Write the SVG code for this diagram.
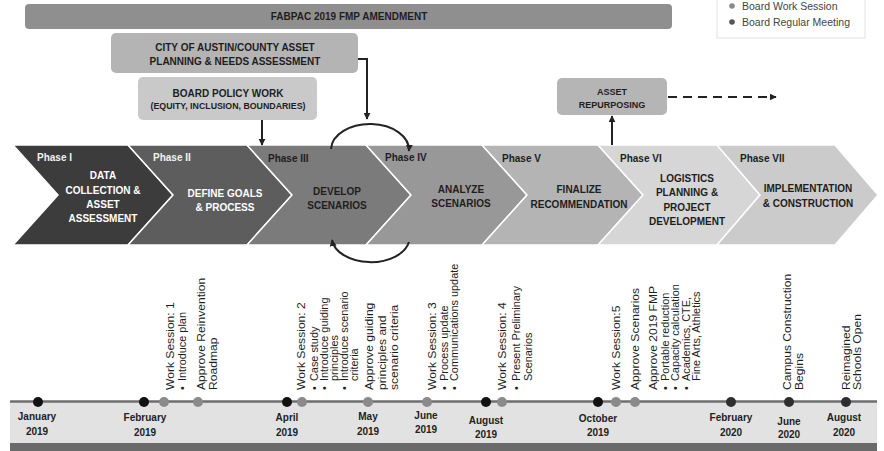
<svg xmlns="http://www.w3.org/2000/svg" width="884" height="451" viewBox="0 0 884 451">
<style>
text{font-family:"Liberation Sans",Arial,sans-serif;}
.b{font-weight:bold;font-size:10px;fill:#1e1e1e;text-anchor:middle;}
.bw{font-weight:bold;font-size:10px;fill:#ffffff;text-anchor:middle;}
.ph{font-weight:bold;font-size:10px;fill:#1e1e1e;}
.phw{font-weight:bold;font-size:10px;fill:#f2f2f2;}
.v{font-size:11px;fill:#1e1e1e;}
.vb{font-size:10px;fill:#1e1e1e;}
.m{font-weight:bold;font-size:10px;fill:#222;text-anchor:middle;}
.lg{font-size:10.5px;fill:#444;}
.chev{stroke:#ffffff;stroke-width:1.5;}
.con{fill:none;stroke:#222;stroke-width:2;}
</style>
<defs>
<marker id="ah" viewBox="0 0 10 10" refX="9" refY="5" markerWidth="7" markerHeight="7" markerUnits="userSpaceOnUse" orient="auto">
<path d="M0,0 L10,5 L0,10 z" fill="#222"/>
</marker>
</defs>
<rect width="884" height="451" fill="#ffffff"/>

<g id="legend">
<rect x="717" y="-5" width="148" height="43" fill="#ffffff" stroke="#e2e2e2" stroke-width="1"/>
<circle cx="732" cy="6" r="2.8" fill="#8a8a8a"/>
<text class="lg" x="742" y="10">Board Work Session</text>
<circle cx="732" cy="22" r="2.8" fill="#555"/>
<text class="lg" x="742" y="26">Board Regular Meeting</text>
</g>

<g id="fabpac">
<rect x="25" y="4" width="647" height="25" rx="4" fill="#8f8f8f"/>
<text class="b" x="349" y="20">FABPAC 2019 FMP AMENDMENT</text>
</g>

<g id="city">
<rect x="111" y="33" width="247" height="40" rx="5" fill="#b4b4b4"/>
<text class="b" x="235" y="51">CITY OF AUSTIN/COUNTY ASSET</text>
<text class="b" x="235" y="65">PLANNING &amp; NEEDS ASSESSMENT</text>
</g>

<g id="board">
<rect x="138" y="77" width="179" height="43" rx="5" fill="#c9c9c9"/>
<text class="b" x="228" y="97">BOARD POLICY WORK</text>
<text class="b" x="228" y="109" style="font-size:8.8px">(EQUITY, INCLUSION, BOUNDARIES)</text>
</g>

<g id="asset">
<rect x="557" y="78" width="110" height="37" rx="5" fill="#b5b5b5"/>
<text class="b" x="612" y="94.5" style="font-size:9px">ASSET</text>
<text class="b" x="612" y="107.5" style="font-size:9px">REPURPOSING</text>
</g>

<g id="phase1">
<polygon class="chev" points="13,145 128,145 173,195 128,245 13,245 58,195" fill="#3c3c3c"/>
<text class="phw" x="37" y="161">Phase I</text>
<text class="bw" x="103" y="179">DATA</text>
<text class="bw" x="103" y="194">COLLECTION &amp;</text>
<text class="bw" x="103" y="208">ASSET</text>
<text class="bw" x="103" y="222">ASSESSMENT</text>
</g>
<g id="phase2">
<polygon class="chev" points="128,145 247,145 292,195 247,245 128,245 173,195" fill="#5d5d5d"/>
<text class="phw" x="153" y="161">Phase II</text>
<text class="bw" x="225" y="197">DEFINE GOALS</text>
<text class="bw" x="225" y="211">&amp; PROCESS</text>
</g>
<g id="phase3">
<polygon class="chev" points="247,145 366,145 411,195 366,245 247,245 292,195" fill="#7b7b7b"/>
<text class="ph" x="268" y="162">Phase III</text>
<text class="b" x="337" y="195">DEVELOP</text>
<text class="b" x="337" y="209">SCENARIOS</text>
</g>
<g id="phase4">
<polygon class="chev" points="366,145 482,145 527,195 482,245 366,245 411,195" fill="#989898"/>
<text class="ph" x="385" y="161">Phase IV</text>
<text class="b" x="461" y="193">ANALYZE</text>
<text class="b" x="461" y="207">SCENARIOS</text>
</g>
<g id="phase5">
<polygon class="chev" points="482,145 598,145 643,195 598,245 482,245 527,195" fill="#b4b4b4"/>
<text class="ph" x="502" y="162">Phase V</text>
<text class="b" x="579" y="193">FINALIZE</text>
<text class="b" x="579" y="208">RECOMMENDATION</text>
</g>
<g id="phase6">
<polygon class="chev" points="598,145 717,145 760,195 717,245 598,245 643,195" fill="#d6d6d6"/>
<text class="ph" x="620" y="162">Phase VI</text>
<text class="b" x="687" y="182">LOGISTICS</text>
<text class="b" x="687" y="196">PLANNING &amp;</text>
<text class="b" x="687" y="211">PROJECT</text>
<text class="b" x="687" y="225">DEVELOPMENT</text>
</g>
<g id="phase7">
<polygon class="chev" points="717,145 835,145 878,195 835,245 717,245 760,195" fill="#cbcbcb"/>
<text class="ph" x="740" y="162">Phase VII</text>
<text class="b" x="808" y="192">IMPLEMENTATION</text>
<text class="b" x="808" y="207">&amp; CONSTRUCTION</text>
</g>

<g id="connectors">
<path class="con" d="M262,120 V145" marker-end="url(#ah)"/>
<path class="con" d="M358,59 H367 V119" marker-end="url(#ah)"/>
<path class="con" d="M612,145 V116" marker-end="url(#ah)"/>
<path class="con" d="M331,149 A39,26 0 0 1 409,151" stroke="#333" stroke-width="2.5" marker-end="url(#ah)"/>
<path class="con" d="M409,242 A39,25 0 0 1 332,240" stroke="#333" stroke-width="2.5" marker-end="url(#ah)"/>
<path class="con" d="M668,97 H776" stroke="#333" stroke-width="3" stroke-dasharray="9 6" marker-end="url(#ah)"/>
</g>

<g id="timeline">
<rect x="10" y="402" width="867" height="41" fill="#e2e2e2"/>
<rect x="10" y="443" width="867" height="8" fill="#6a6a6a"/>
<line x1="10" y1="401.5" x2="877" y2="401.5" stroke="#6e6e6e" stroke-width="2.5"/>
<g fill="#111">
<circle cx="38" cy="402" r="5"/>
<circle cx="144" cy="402" r="5"/>
<circle cx="287" cy="402" r="5"/>
<circle cx="486" cy="402" r="5"/>
<circle cx="598" cy="402" r="5"/>
</g>
<g fill="#2e2e2e">
<circle cx="731" cy="402" r="5"/>
<circle cx="789" cy="402" r="5"/>
<circle cx="846" cy="402" r="5"/>
</g>
<g fill="#8a8a8a">
<circle cx="164" cy="402" r="5"/>
<circle cx="198" cy="402" r="5"/>
<circle cx="302" cy="402" r="5"/>
<circle cx="368" cy="402" r="5"/>
<circle cx="427" cy="402" r="5"/>
<circle cx="502" cy="402" r="5"/>
<circle cx="616" cy="402" r="5"/>
<circle cx="635" cy="402" r="5"/>
</g>
<text class="m" x="37" y="420">January</text><text class="m" x="37" y="435">2019</text>
<text class="m" x="145" y="421">February</text><text class="m" x="145" y="436">2019</text>
<text class="m" x="287" y="421">April</text><text class="m" x="287" y="436">2019</text>
<text class="m" x="368" y="420">May</text><text class="m" x="368" y="435">2019</text>
<text class="m" x="426" y="419">June</text><text class="m" x="426" y="433">2019</text>
<text class="m" x="486" y="424">August</text><text class="m" x="486" y="438">2019</text>
<text class="m" x="598" y="422">October</text><text class="m" x="598" y="436">2019</text>
<text class="m" x="731" y="421">February</text><text class="m" x="731" y="436">2020</text>
<text class="m" x="789" y="425">June</text><text class="m" x="789" y="438">2020</text>
<text class="m" x="844" y="421">August</text><text class="m" x="844" y="436">2020</text>
</g>

<g id="events">
<text class="v" transform="translate(174,390) rotate(-90) scale(1.1,1)">Work Session: 1</text>
<text class="vb" transform="translate(186,390) rotate(-90) scale(1.09,1)">•</text>
<text class="vb" transform="translate(186,381) rotate(-90) scale(1.09,1)">Introduce plan</text>
<text class="v" transform="translate(205,390) rotate(-90) scale(1.1,1)">Approve Reinvention</text>
<text class="v" transform="translate(217,390) rotate(-90) scale(1.1,1)">Roadmap</text>

<text class="v" transform="translate(305,390) rotate(-90) scale(1.1,1)">Work Session: 2</text>
<text class="vb" transform="translate(318,390) rotate(-90) scale(1.09,1)">•</text>
<text class="vb" transform="translate(318,381) rotate(-90) scale(1.09,1)">Case study</text>
<text class="vb" transform="translate(328,390) rotate(-90) scale(1.09,1)">•</text>
<text class="vb" transform="translate(328,381) rotate(-90) scale(1.09,1)">Introduce guiding</text>
<text class="vb" transform="translate(338,381) rotate(-90) scale(1.09,1)">principles</text>
<text class="vb" transform="translate(348,390) rotate(-90) scale(1.09,1)">•</text>
<text class="vb" transform="translate(348,381) rotate(-90) scale(1.09,1)">Introduce scenario</text>
<text class="vb" transform="translate(358,381) rotate(-90) scale(1.09,1)">criteria</text>
<text class="v" transform="translate(373,390) rotate(-90) scale(1.1,1)">Approve guiding</text>
<text class="v" transform="translate(386,390) rotate(-90) scale(1.1,1)">principles and</text>
<text class="v" transform="translate(398,390) rotate(-90) scale(1.1,1)">scenario criteria</text>

<text class="v" transform="translate(436,390) rotate(-90) scale(1.1,1)">Work Session: 3</text>
<text class="vb" transform="translate(448,390) rotate(-90) scale(1.09,1)">•</text>
<text class="vb" transform="translate(448,381) rotate(-90) scale(1.09,1)">Process update</text>
<text class="vb" transform="translate(458,390) rotate(-90) scale(1.09,1)">•</text>
<text class="vb" transform="translate(458,381) rotate(-90) scale(1.09,1)">Communications update</text>

<text class="v" transform="translate(506,390) rotate(-90) scale(1.1,1)">Work Session: 4</text>
<text class="vb" transform="translate(520,390) rotate(-90) scale(1.09,1)">•</text>
<text class="vb" transform="translate(520,381) rotate(-90) scale(1.09,1)">Present Preliminary</text>
<text class="vb" transform="translate(532,381) rotate(-90) scale(1.09,1)">Scenarios</text>

<text class="v" transform="translate(620,390) rotate(-90) scale(1.1,1)">Work Session:5</text>
<text class="v" transform="translate(639,390) rotate(-90) scale(1.1,1)">Approve Scenarios</text>
<text class="v" transform="translate(657,390) rotate(-90) scale(1.1,1)">Approve 2019 FMP</text>
<text class="vb" transform="translate(669,390) rotate(-90) scale(1.09,1)">•</text>
<text class="vb" transform="translate(669,381) rotate(-90) scale(1.09,1)">Portable reduction</text>
<text class="vb" transform="translate(679,390) rotate(-90) scale(1.09,1)">•</text>
<text class="vb" transform="translate(679,381) rotate(-90) scale(1.09,1)">Capacity calculation</text>
<text class="vb" transform="translate(690,390) rotate(-90) scale(1.09,1)">•</text>
<text class="vb" transform="translate(690,381) rotate(-90) scale(1.09,1)">Academics, CTE,</text>
<text class="vb" transform="translate(700,381) rotate(-90) scale(1.09,1)">Fine Arts, Athletics</text>

<text class="v" transform="translate(791,390) rotate(-90) scale(1.1,1)">Campus Construction</text>
<text class="v" transform="translate(803,390) rotate(-90) scale(1.1,1)">Begins</text>
<text class="v" transform="translate(850,390) rotate(-90) scale(1.1,1)">Reimagined</text>
<text class="v" transform="translate(861,390) rotate(-90) scale(1.1,1)">Schools Open</text>
</g>
</svg>
